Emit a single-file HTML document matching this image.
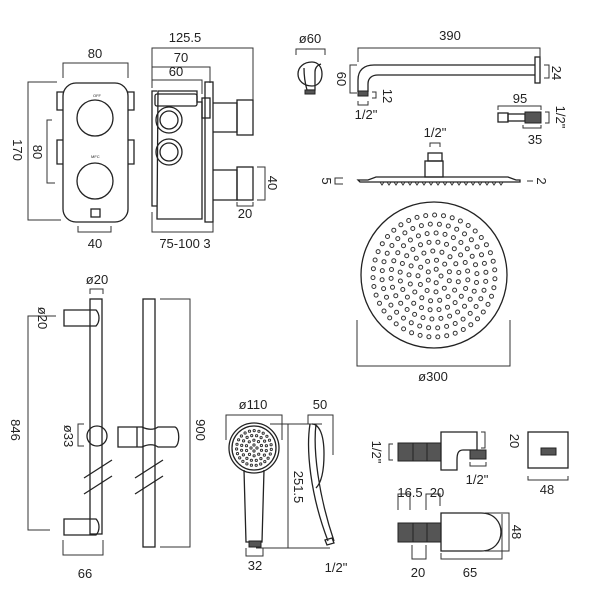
<!DOCTYPE html>
<html><head><style>
html,body{margin:0;padding:0;background:#fff}
svg{display:block}
text{font-family:"Liberation Sans","DejaVu Sans",sans-serif;font-size:13px;fill:#222}
.s{fill:none;stroke:#222;stroke-width:1.3}
.d{fill:none;stroke:#333;stroke-width:1}
.k{fill:#555;stroke:#222;stroke-width:1}
</style></head><body>
<svg id="g" width="600" height="600" viewBox="0 0 600 600" xmlns="http://www.w3.org/2000/svg">
<!-- valve front -->
<rect class="s" x="63" y="83" width="65" height="139" rx="13"/>
<path class="s" d="M63 92h-6v18h6 M63 140h-6v24h6 M128 92h6v18h-6 M128 140h6v24h-6"/>
<circle class="s" cx="95" cy="118" r="18"/>
<circle class="s" cx="95" cy="181" r="18"/>
<rect class="s" x="91" y="209" width="9" height="8"/>
<text x="93" y="97" style="font-size:4px">OFF</text>
<text x="91" y="158" style="font-size:4px">MFC</text>
<path class="d" d="M63 78V63h65v15 M57 82H28v138h33 M52 120H47v63h8 M78 226v6h33v-6"/>
<text x="95" y="58" text-anchor="middle">80</text>
<text transform="translate(13,150) rotate(90)" text-anchor="middle">170</text>
<text transform="translate(33,152) rotate(90)" text-anchor="middle">80</text>
<text x="95" y="248" text-anchor="middle">40</text>
<!-- valve side -->
<path class="s" d="M157 91h-5v115h5 M158 91h39v11h5v117h-45z"/>
<rect class="s" x="155" y="94" width="42" height="12" rx="2"/>
<rect class="s" x="202" y="98" width="8" height="20"/>
<rect class="s" x="205" y="82" width="8" height="140"/>
<circle class="s" cx="169" cy="120" r="13"/><circle class="s" cx="169" cy="120" r="9"/>
<circle class="s" cx="169" cy="152" r="13"/><circle class="s" cx="169" cy="152" r="9"/>
<path class="s" d="M213 103h24v29h-24 M213 170h24v30h-24"/>
<rect class="s" x="237" y="100" width="16" height="35"/>
<rect class="s" x="237" y="167" width="16" height="33"/>
<path class="d" d="M152 86V48h101v52 M152 88V67h58v16 M152 88V80h50v14 M152 212v20h61v-10 M257 167h8v33h-8 M237 202v4h16v-4"/>
<text x="185" y="42" text-anchor="middle">125.5</text>
<text x="181" y="62" text-anchor="middle">70</text>
<text x="176" y="76" text-anchor="middle">60</text>
<text x="185" y="248" text-anchor="middle">75-100 3</text>
<text transform="translate(268,183) rotate(90)" text-anchor="middle">40</text>
<text x="245" y="218" text-anchor="middle">20</text>
<!-- flange -->
<path class="s" d="M312 62c-8 0-14 5-14 12s6 12 14 12 M312 62c6 0 10 5 10 12s-4 12-10 12"/>
<path class="s" d="M304 68c0 8 1 15 3 22h8v-18c0-5 3-7 6-8"/>
<rect class="k" x="305" y="90" width="10" height="4"/>
<path class="d" d="M296 55v-6h29v6"/>
<text x="310" y="43" text-anchor="middle">ø60</text>
<!-- arm -->
<path class="s" d="M358 92V80c0-10 6-15 16-15h161 M368 92V84c0-6 4-9 10-9h157"/>
<rect class="s" x="535" y="57" width="5" height="26"/>
<rect class="k" x="358" y="91" width="10" height="5"/>
<path class="d" d="M358 62V48h182v10 M357 65h-7v28h7 M372 92h4v6h-4 M358 101v4h10v-4 M544 65h5v13h-5"/>
<text x="450" y="40" text-anchor="middle">390</text>
<text transform="translate(337,79) rotate(90)" text-anchor="middle">60</text>
<text transform="translate(383,96) rotate(90)" text-anchor="middle">12</text>
<text x="366" y="119" text-anchor="middle">1/2"</text>
<text transform="translate(552,73) rotate(90)" text-anchor="middle">24</text>
<rect class="s" x="498" y="113" width="10" height="9"/>
<rect class="s" x="508" y="114" width="17" height="7"/>
<rect class="k" x="525" y="112" width="16" height="11"/>
<path class="d" d="M498 110v-4h43v4 M545 112h4v11h-4 M523 125v3h18v-3"/>
<text x="520" y="103" text-anchor="middle">95</text>
<text transform="translate(556,117) rotate(90)" text-anchor="middle">1/2"</text>
<text x="535" y="144" text-anchor="middle">35</text>
<!-- head side -->
<rect class="s" x="428" y="153" width="14" height="8"/>
<rect class="s" x="425" y="161" width="18" height="16"/>
<path class="s" d="M358 180h10l8-3h132l8 3h4v2h-160z"/>
<path id="teeth" class="d" d=""/>
<path class="d" d="M343 178h-8v6h8 M527 181h6"/>
<path class="d" d="M430 147v-4h10v4"/>
<text x="435" y="137" text-anchor="middle">1/2"</text>
<text transform="translate(322,181) rotate(90)" text-anchor="middle">5</text>
<text transform="translate(537,181) rotate(90)" text-anchor="middle">2</text>
<!-- round head -->
<circle class="s" cx="434" cy="275" r="73"/>
<g id="dots2"></g>
<path class="d" d="M357 320v46h153v-46"/>
<text x="433" y="381" text-anchor="middle">ø300</text>
<!-- rail 1 -->
<rect class="s" x="90" y="299" width="12" height="235"/>
<path class="s" d="M64 310h32c4 4 4 12 0 16h-32z M64 519h32c4 4 4 12 0 16h-32z"/>
<path class="s" d="M84 478l28-18 M84 494l28-18"/>
<circle class="s" cx="97" cy="436" r="10"/>
<path class="d" d="M90 294v-5h13v5 M56 316H28v214h22 M84 424h-6v22h6 M63 540v15h40v-15"/>
<text x="97" y="284" text-anchor="middle">ø20</text>
<text transform="translate(38,318) rotate(90)" text-anchor="middle">ø20</text>
<text transform="translate(11,430) rotate(90)" text-anchor="middle">846</text>
<text transform="translate(64,436) rotate(90)" text-anchor="middle">ø33</text>
<text x="85" y="578" text-anchor="middle">66</text>
<!-- rail 2 -->
<rect class="s" x="143" y="299" width="12" height="248"/>
<path class="s" d="M118 427h19v20h-19z M137 427h5c6 3 12 3 16 0h17c5 2 5 18 0 20h-17c-4-3-10-3-16 0h-5z"/>
<path class="s" d="M135 478l28-18 M135 494l28-18"/>
<path class="d" d="M160 299h30v248h-30"/>
<text transform="translate(196,430) rotate(90)" text-anchor="middle">900</text>
<!-- hand shower -->
<circle class="s" cx="254" cy="448" r="25"/>
<circle class="s" cx="254" cy="448" r="22"/>
<g id="dots3"></g>
<path class="s" d="M244 470l2 72h16l2-72"/>
<rect class="k" x="249" y="541" width="12" height="6"/>
<path class="d" d="M226 440v-25h56v25 M270 424h52 M256 548h74 M288 424v124 M246 548v8h17v-8 M308 424v-9h25v40"/>
<path class="s" d="M310 424c-4 25 0 70 18 117 M316 424c-3 25 2 70 18 117 M312 424c6 0 12 8 12 30s-4 30-8 34 M325 540l7-2 2 5-7 2z"/>
<text x="253" y="409" text-anchor="middle">ø110</text>
<text x="320" y="409" text-anchor="middle">50</text>
<text transform="translate(294,487) rotate(90)" text-anchor="middle">251.5</text>
<text x="255" y="570" text-anchor="middle">32</text>
<text x="336" y="572" text-anchor="middle">1/2"</text>
<!-- outlet top -->
<rect class="k" x="398" y="443" width="15" height="18"/><rect class="k" x="413" y="443" width="14" height="18"/><rect class="k" x="427" y="443" width="14" height="18"/>
<path class="s" d="M441 432h36v18h-14c-5 0-6 4-6 10v10h-16z"/>
<rect class="k" x="470" y="450" width="16" height="9"/>
<path class="d" d="M393 444h-4v16h4 M481 432h4v16h-4 M470 462v4h16v-4"/>
<rect class="s" x="528" y="432" width="40" height="36"/>
<rect class="k" x="541" y="448" width="15" height="7"/>
<path class="d" d="M528 476v4h40v-4"/>
<text transform="translate(372,452) rotate(90)" text-anchor="middle">1/2"</text>
<text transform="translate(510,441) rotate(90)" text-anchor="middle">20</text>
<text x="477" y="484" text-anchor="middle">1/2"</text>
<text x="547" y="494" text-anchor="middle">48</text>
<!-- outlet bottom -->
<rect class="k" x="398" y="523" width="15" height="19"/><rect class="k" x="413" y="523" width="14" height="19"/><rect class="k" x="427" y="523" width="14" height="19"/>
<path class="s" d="M441 513h40c14 0 20 10 20 19s-6 19-20 19h-40z"/>
<path class="d" d="M398 510v-16h12v16 M426 510v-16h14v12 M412 545v14h14v-14 M441 553v6h61v-45 M485 513h24v38h-24"/>
<text x="410" y="497" text-anchor="middle">16.5</text>
<text x="437" y="497" text-anchor="middle">20</text>
<text x="418" y="577" text-anchor="middle">20</text>
<text x="470" y="577" text-anchor="middle">65</text>
<text transform="translate(512,532) rotate(90)" text-anchor="middle">48</text>
</svg>
<script>
function dots(id,cx,cy,rings,step,r0,rd){var g=document.getElementById(id),s='';
for(var i=0;i<rings;i++){var R=r0+i*step;var n=Math.max(4,Math.round(2*Math.PI*R/step));
for(var j=0;j<n;j++){var a=j*2*Math.PI/n+i*0.3;s+='<circle cx="'+(cx+R*Math.cos(a)).toFixed(1)+'" cy="'+(cy+R*Math.sin(a)).toFixed(1)+'" r="'+rd+'" fill="none" stroke="#333" stroke-width="1"/>';}}
g.innerHTML=s;}
dots('dots2',434,276,7,9,7,2);
dots('dots3',254,448,4,4.8,3,1.1);
var t='';for(var x=380;x<=505;x+=7){t+='M'+x+' 182l2 3 2-3';}
document.getElementById('teeth').setAttribute('d',t);
</script>
</body></html>
